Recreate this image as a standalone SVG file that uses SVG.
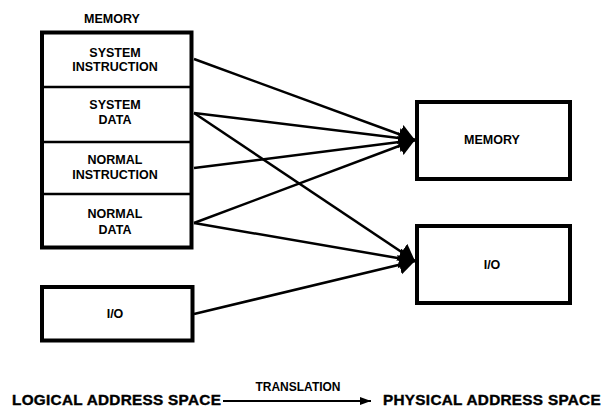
<svg xmlns="http://www.w3.org/2000/svg" width="604" height="408" viewBox="0 0 604 408">
  <style>
    .box { fill: #fff; stroke: #000; stroke-width: 4; }
    .div { stroke: #000; stroke-width: 2.5; }
    .lbl { font-family: "Liberation Sans", Arial, sans-serif; font-weight: bold; font-size: 12.5px; text-anchor: middle; fill: #000; }
    .big { font-family: "Liberation Sans", Arial, sans-serif; font-weight: bold; font-size: 15.3px; letter-spacing: 0.3px; fill: #000; stroke: #000; stroke-width: 0.4; }
    .tr { font-family: "Liberation Sans", Arial, sans-serif; font-weight: bold; font-size: 12px; text-anchor: middle; fill: #000; }
    .conn { stroke: #000; stroke-width: 2.5; fill: none; marker-end: url(#head); }
  </style>
  <defs>
    <marker id="head" markerUnits="userSpaceOnUse" markerWidth="18" markerHeight="22" refX="16" refY="10" orient="auto">
      <path d="M0,0 L16,10 L0,20 Z" fill="#000"/>
    </marker>
    <marker id="small" markerUnits="userSpaceOnUse" markerWidth="12" markerHeight="10" refX="11" refY="4" orient="auto">
      <path d="M0,0 L11,4 L0,8 Z" fill="#000"/>
    </marker>
  </defs>

  <g id="logical-memory">
    <text class="lbl" x="112" y="22.5">MEMORY</text>
    <rect class="box" x="42" y="32.5" width="149.5" height="215"/>
    <line class="div" x1="42" y1="87" x2="191.5" y2="87"/>
    <line class="div" x1="42" y1="142" x2="191.5" y2="142"/>
    <line class="div" x1="42" y1="194" x2="191.5" y2="194"/>
  </g>
  <g id="system-instruction">
    <text class="lbl" x="115" y="56.5">SYSTEM</text>
    <text class="lbl" x="115" y="70.5">INSTRUCTION</text>
  </g>
  <g id="system-data">
    <text class="lbl" x="115" y="108.5">SYSTEM</text>
    <text class="lbl" x="115" y="123.5">DATA</text>
  </g>
  <g id="normal-instruction">
    <text class="lbl" x="115" y="163.5">NORMAL</text>
    <text class="lbl" x="115" y="178.5">INSTRUCTION</text>
  </g>
  <g id="normal-data">
    <text class="lbl" x="115" y="217.5">NORMAL</text>
    <text class="lbl" x="115" y="233.5">DATA</text>
  </g>
  <g id="logical-io">
    <rect class="box" x="42" y="287" width="150.5" height="53.5"/>
    <text class="lbl" x="115" y="317.5">I/O</text>
  </g>
  <g id="physical-memory">
    <rect class="box" x="417" y="102" width="153" height="77"/>
    <text class="lbl" x="492" y="143.5">MEMORY</text>
  </g>
  <g id="physical-io">
    <rect class="box" x="417" y="226" width="153" height="77"/>
    <text class="lbl" x="492" y="268.5">I/O</text>
  </g>

  <g id="connectors">
    <line class="conn" x1="194" y1="59" x2="415" y2="140"/>
    <line class="conn" x1="194" y1="113" x2="415" y2="140"/>
    <line class="conn" x1="194" y1="168" x2="415" y2="140"/>
    <line class="conn" x1="194" y1="223" x2="415" y2="140"/>
    <line class="conn" x1="194" y1="113" x2="415" y2="261"/>
    <line class="conn" x1="194" y1="223" x2="415" y2="261"/>
    <line class="conn" x1="194" y1="314" x2="415" y2="261"/>
  </g>

  <g id="legend">
    <text class="big" x="12" y="405">LOGICAL ADDRESS SPACE</text>
    <text class="tr" x="298" y="391">TRANSLATION</text>
    <line x1="223" y1="401" x2="371" y2="401" stroke="#000" stroke-width="1.8" marker-end="url(#small)"/>
    <text class="big" x="383" y="405">PHYSICAL ADDRESS SPACE</text>
  </g>
</svg>
